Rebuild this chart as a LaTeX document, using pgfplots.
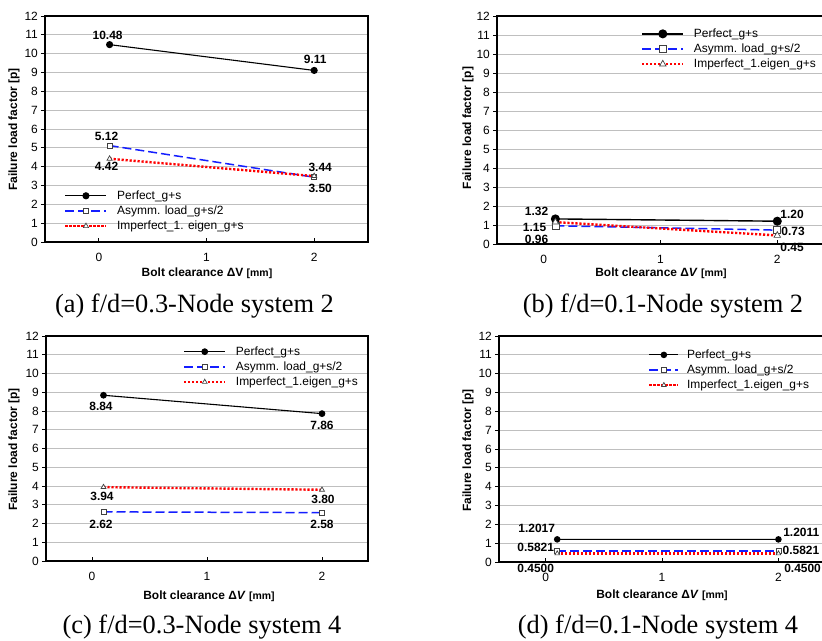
\documentclass[border=0pt]{standalone}
\usepackage{fontspec}
\setmainfont{Liberation Sans}
\newfontfamily\capfont{Liberation Serif}
\usepackage{pgfplots}
\pgfplotsset{compat=1.18}

\definecolor{dblue}{RGB}{20,30,255}
\definecolor{dred}{RGB}{255,0,0}

\pgfplotsset{
  panel/.style={
    scale only axis, clip=false,
    ymin=0, ymax=12, ytick={0,1,...,12}, xtick={0,1,2},
    ymajorgrids, grid style={black!25, line width=0.9bp},
    axis line style={line width=1.3bp},
    tick align=outside, major tick length=4bp,
    tick style={black, line width=0.9bp},
    x tick style={yshift=4bp},
    xtick pos=bottom, ytick pos=left,
    /pgf/number format/assume math mode=true,
    ticklabel style={font=\fontsize{12}{14}\selectfont},
    yticklabel style={inner sep=0pt, xshift=-3bp},
    xticklabel style={inner sep=0pt, yshift=-6.7bp},
    legend cell align=left,
    legend style={draw=none, fill=none, inner sep=0pt, row sep=4bp, anchor=north west,
      nodes={inner sep=0.5bp, font=\fontsize{12}{14}\selectfont},
      /tikz/every odd column/.append style={column sep=9bp}},
    legend image code/.code={\draw[mark repeat=2,mark phase=2] plot coordinates {(0bp,0bp) (20.5bp,0bp) (41bp,0bp)};},
  },
  perf/.style={black, line width=1.1bp, mark=*, mark options={solid, fill=black}},
  asym/.style={dblue, line width=1.5bp, dash pattern=on 9bp off 4bp, mark=square*,
    mark options={solid, fill=white, draw=black!75, line width=0.7bp}},
  impf/.style={dred, line width=2.4bp, dash pattern=on 2.2bp off 1.8bp, mark=triangle*,
    mark options={solid, fill=white, draw=black!75, line width=0.7bp}},
}
\tikzset{lab/.style={font=\bfseries\fontsize{12}{14}\selectfont, inner sep=0pt}}

\begin{document}
\begin{tikzpicture}

% (a)
\begin{axis}[panel, at={(45bp,-242bp)}, anchor=south west, width=323bp, height=226bp,
  xmin=-0.5, xmax=2.5,
  legend style={at={(axis description cs:0.059,0.230)}}]
\addplot[perf, mark size=3bp] coordinates {(0.1,10.48) (2,9.11)};
\addplot[asym, mark size=2.5bp] coordinates {(0.1,5.12) (2,3.44)};
\addplot[impf, mark size=3bp] coordinates {(0.1,4.42) (2,3.50)};
\legend{Perfect\_g+s, Asymm. load\_g+s/2, Imperfect\_1. eigen\_g+s}
\node[lab, anchor=south, xshift=-2bp, yshift=5.3bp] at (axis cs:0.1,10.48) {10.48};
\node[lab, anchor=south, xshift=1bp, yshift=6.2bp] at (axis cs:2,9.11) {9.11};
\node[lab, anchor=south, xshift=-3bp, yshift=4.3bp] at (axis cs:0.1,5.12) {5.12};
\node[lab, anchor=north, xshift=-3bp, yshift=-2.9bp] at (axis cs:0.1,4.42) {4.42};
\node[lab, anchor=south, xshift=6bp, yshift=5.7bp] at (axis cs:2,3.44) {3.44};
\node[lab, anchor=north, xshift=6bp, yshift=-7.7bp] at (axis cs:2,3.50) {3.50};
\end{axis}

% (b)
\begin{axis}[panel, at={(497bp,-244bp)}, anchor=south west, width=327bp, height=228bp,
  xmin=-0.4, xmax=2.4,
  legend style={at={(axis description cs:0.440,0.947)}}]
\addplot[perf, line width=1.4bp, mark size=3.8bp] coordinates {(0.1,1.32) (2,1.20)};
\addplot[asym, mark size=3.5bp] coordinates {(0.1,0.96) (2,0.73)};
\addplot[impf, mark size=3.8bp] coordinates {(0.1,1.15) (2,0.45)};
\legend{Perfect\_g+s, Asymm. load\_g+s/2, Imperfect\_1.eigen\_g+s}
\node[lab, anchor=south east, xshift=-7bp, yshift=2.7bp] at (axis cs:0.1,1.32) {1.32};
\node[lab, anchor=east, xshift=-9bp, yshift=-5bp] at (axis cs:0.1,1.15) {1.15};
\node[lab, anchor=north east, xshift=-7bp, yshift=-8.9bp] at (axis cs:0.1,0.96) {0.96};
\node[lab, anchor=south west, xshift=3bp, yshift=1.9bp] at (axis cs:2,1.20) {1.20};
\node[lab, anchor=west, xshift=4bp, yshift=-1bp] at (axis cs:2,0.73) {0.73};
\node[lab, anchor=north west, xshift=3bp, yshift=-7.2bp] at (axis cs:2,0.45) {0.45};
\end{axis}

% (c)
\begin{axis}[panel, at={(46bp,-561bp)}, anchor=south west, width=322bp, height=225bp,
  xmin=-0.4, xmax=2.4,
  legend style={at={(axis description cs:0.425,0.956)}}]
\addplot[perf, mark size=2.8bp] coordinates {(0.1,8.84) (2,7.86)};
\addplot[asym, mark size=2.5bp] coordinates {(0.1,2.62) (2,2.58)};
\addplot[impf, mark size=2.8bp] coordinates {(0.1,3.94) (2,3.80)};
\legend{Perfect\_g+s, Asymm. load\_g+s/2, Imperfect\_1.eigen\_g+s}
\node[lab, anchor=north, xshift=-2.5bp, yshift=-7.1bp] at (axis cs:0.1,8.84) {8.84};
\node[lab, anchor=north, yshift=-7.4bp] at (axis cs:2,7.86) {7.86};
\node[lab, anchor=north, xshift=-1.5bp, yshift=-5.3bp] at (axis cs:0.1,3.94) {3.94};
\node[lab, anchor=north, xshift=1bp, yshift=-5.3bp] at (axis cs:2,3.80) {3.80};
\node[lab, anchor=north, xshift=-2.5bp, yshift=-7.8bp] at (axis cs:0.1,2.62) {2.62};
\node[lab, anchor=north, yshift=-7.1bp] at (axis cs:2,2.58) {2.58};
\end{axis}

% (d)
\begin{axis}[panel, at={(499bp,-562bp)}, anchor=south west, width=326bp, height=226bp,
  xmin=-0.4, xmax=2.4,
  legend style={at={(axis description cs:0.457,0.942)}},
  legend image code/.code={\draw[mark repeat=2,mark phase=2] plot coordinates {(0bp,0bp) (14.5bp,0bp) (29bp,0bp)};},
  legend style={/tikz/every odd column/.append style={column sep=7bp}}]
\addplot[perf, mark size=2.7bp] coordinates {(0.1,1.2017) (2,1.2011)};
\addplot[asym, mark size=2.5bp] coordinates {(0.1,0.5821) (2,0.5821)};
\addplot[impf, mark size=2.7bp] coordinates {(0.1,0.45) (2,0.45)};
\legend{Perfect\_g+s, Asymm. load\_g+s/2, Imperfect\_1.eigen\_g+s}
\node[lab, anchor=south east, xshift=-2bp, yshift=6.1bp] at (axis cs:0.1,1.2017) {1.2017};
\node[lab, anchor=east, xshift=-3bp, yshift=3.3bp] at (axis cs:0.1,0.5821) {0.5821};
\node[lab, anchor=north east, xshift=-3bp, yshift=-10.5bp] at (axis cs:0.1,0.45) {0.4500};
\node[lab, anchor=south west, xshift=4.7bp, yshift=2.8bp] at (axis cs:2,1.2011) {1.2011};
\node[lab, anchor=west, xshift=4bp, yshift=0.3bp] at (axis cs:2,0.5821) {0.5821};
\node[lab, anchor=north west, xshift=5.7bp, yshift=-10.5bp] at (axis cs:2,0.45) {0.4500};
\end{axis}

% axis titles
\begin{scope}[every node/.style={font=\bfseries\fontsize{12}{14}\selectfont, inner sep=0pt}]
\node[rotate=90] at (14bp,-129.5bp) {Failure load factor [p]};
\node[rotate=90] at (468bp,-128bp) {Failure load factor [p]};
\node[rotate=90] at (14bp,-449.5bp) {Failure load factor [p]};
\node[rotate=90] at (468bp,-450.5bp) {Failure load factor [p]};
\node at (207bp,-273bp) {Bolt clearance ΔV {\fontsize{10.5}{12}\selectfont[mm]}};
\node at (661bp,-273bp) {Bolt clearance Δ\textit{V} {\fontsize{10.5}{12}\selectfont[mm]}};
\node at (209bp,-596bp) {Bolt clearance Δ\textit{V} {\fontsize{10.5}{12}\selectfont[mm]}};
\node at (662bp,-595bp) {Bolt clearance Δ\textit{V} {\fontsize{10.5}{12}\selectfont[mm]}};
\end{scope}

% captions
\begin{scope}[every node/.style={font=\capfont\fontsize{26.5}{30}\selectfont, inner sep=0pt}]
\node at (194.5bp,-306bp) {(a) f/d=0.3-Node system 2};
\node at (663bp,-306bp) {(b) f/d=0.1-Node system 2};
\node at (202bp,-627.5bp) {(c) f/d=0.3-Node system 4};
\node at (658bp,-627.5bp) {(d) f/d=0.1-Node system 4};
\end{scope}

\pgfresetboundingbox
\useasboundingbox (0,0) rectangle (822bp,-641bp);
\end{tikzpicture}
\end{document}
